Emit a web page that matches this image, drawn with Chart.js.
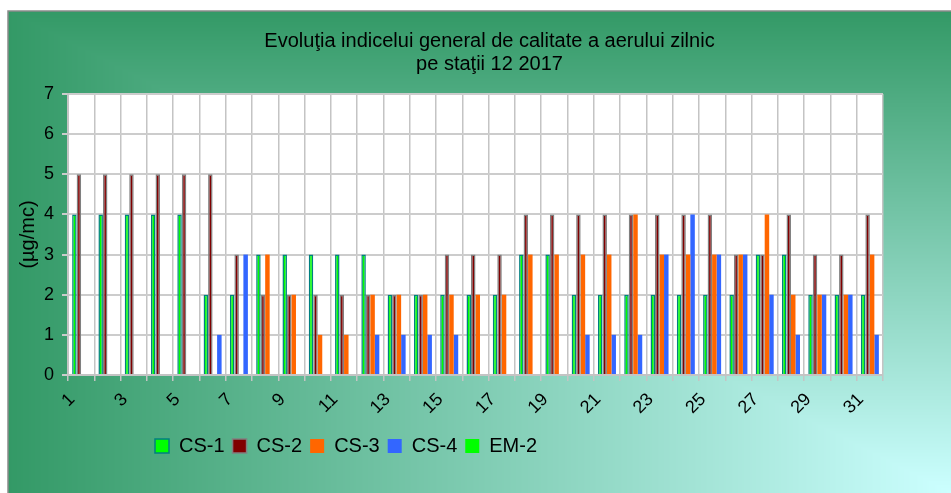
<!DOCTYPE html>
<html>
<head>
<meta charset="utf-8">
<script src="https://cdn.jsdelivr.net/npm/chart.js@4/dist/chart.umd.min.js"></script>
<style>
  html, body { margin: 0; padding: 0; background: #fff; }
</style>
</head>
<body>
<canvas id="aqiChart" width="951" height="493"></canvas>
<script>
// days of the month (December 2017)
const days = ['1','2','3','4','5','6','7','8','9','10','11','12','13','14','15','16',
              '17','18','19','20','21','22','23','24','25','26','27','28','29','30','31'];

// daily air quality index per station
const cs1 = [4,4,4,4,4,2,2,3,3,3,3,3,2,2,2,2,2,3,3,2,2,2,2,2,2,2,3,3,2,2,2];
const cs2 = [5,5,5,5,5,5,3,2,2,2,2,2,2,2,3,3,3,4,4,4,4,4,4,4,4,3,3,4,3,3,4];
const cs3 = [null,null,null,null,null,null,null,3,2,1,1,2,2,2,2,2,2,3,3,3,3,4,3,3,3,3,4,2,2,2,3];
const cs4 = [null,null,null,null,null,1,3,null,null,null,null,1,1,1,1,null,null,null,null,1,1,1,3,4,3,3,2,1,2,2,1];
const em2 = [null,null,null,null,null,null,null,null,null,null,null,null,null,null,null,null,
             null,null,null,null,null,null,null,null,null,null,null,null,null,null,null];

const yTicks = [0,1,2,3,4,5,6,7];

Chart.defaults.font.family = '"Liberation Sans", Arial, sans-serif';
Chart.defaults.color = '#000';

let panelImg = null;
function buildPanel(w, h) {
  const c = document.createElement('canvas');
  c.width = w; c.height = h;
  const g = c.getContext('2d');
  const img = g.createImageData(w, h);
  const dark = [51, 153, 102], light = [204, 255, 255];
  for (let j = 0; j < h; j++) {
    for (let i = 0; i < w; i++) {
      let t = Math.max((w - 1 - i) / w, (h - 1 - j) / h);
      const k = (j * w + i) * 4;
      img.data[k] = light[0] + (dark[0] - light[0]) * t;
      img.data[k + 1] = light[1] + (dark[1] - light[1]) * t;
      img.data[k + 2] = light[2] + (dark[2] - light[2]) * t;
      img.data[k + 3] = 255;
    }
  }
  g.putImageData(img, 0, 0);
  return c;
}

// green panel behind everything, white plot area
const panelPlugin = {
  id: 'panel',
  beforeDraw(chart) {
    const ctx = chart.ctx;
    const x0 = 8, y0 = 11;
    ctx.save();
    ctx.fillStyle = '#fff';
    ctx.fillRect(0, 0, chart.width, chart.height);
    if (!panelImg) panelImg = buildPanel(chart.width - x0, chart.height - y0);
    ctx.drawImage(panelImg, x0, y0);
    ctx.strokeStyle = '#8a8a8a';
    ctx.lineWidth = 1.5;
    ctx.beginPath();
    ctx.moveTo(x0, chart.height);
    ctx.lineTo(x0, y0);
    ctx.lineTo(chart.width, y0);
    ctx.stroke();
    const a = chart.chartArea;
    ctx.fillStyle = '#fff';
    ctx.fillRect(a.left, a.top, a.right - a.left, a.bottom - a.top);
    ctx.restore();
  }
};

// move title and legend to where the original has them
const shiftPlugin = {
  id: 'shiftBoxes',
  afterLayout(chart) {
    const t = chart.titleBlock;
    t.left += 48; t.right += 48;
    const l = chart.legend;
    l.left = 147;
  }
};

const ctx = document.getElementById('aqiChart');
new Chart(ctx, {
  type: 'bar',
  data: {
    labels: days,
    datasets: [
      { label: 'CS-1', data: cs1, backgroundColor: '#00ff00', borderColor: '#008080', borderWidth: 1.5 },
      { label: 'CS-2', data: cs2, backgroundColor: '#800000', borderColor: '#808080', borderWidth: 1.5 },
      { label: 'CS-3', data: cs3, backgroundColor: '#ff6600', borderWidth: 0 },
      { label: 'CS-4', data: cs4, backgroundColor: '#3366ff', borderWidth: 0, stack: 'd' },
      { label: 'EM-2', data: em2, backgroundColor: '#00ff00', borderWidth: 0, stack: 'd' }
    ]
  },
  options: {
    responsive: false,
    animation: false,
    categoryPercentage: 0.685,
    barPercentage: 1.0,
    layout: { padding: { left: 0, right: 68, top: 0, bottom: 27 } },
    plugins: {
      title: {
        display: true,
        text: ['Evoluţia indicelui general de calitate a aerului zilnic', 'pe staţii 12 2017'],
        font: { size: 20, weight: 'normal', lineHeight: 1.15 },
        color: '#000',
        padding: { top: 30, bottom: 18 }
      },
      legend: {
        position: 'bottom',
        align: 'start',
        labels: { boxWidth: 14, boxHeight: 14, padding: 8, font: { size: 20 }, color: '#000' }
      },
      tooltip: { enabled: false }
    },
    scales: {
      x: {
        grid: { color: '#c4c4c4', lineWidth: 1.5, tickLength: 6, offset: true },
        border: { color: '#c4c4c4', width: 2 },
        ticks: {
          autoSkip: false,
          maxRotation: 45,
          minRotation: 45,
          padding: 8,
          labelOffset: -9,
          font: { size: 18 },
          color: '#000',
          callback: function (val, idx) { return idx % 2 === 0 ? this.getLabelForValue(val) : ''; }
        },
        afterFit: s => { s.height = 53; }
      },
      y: {
        min: 0,
        max: 7,
        grid: { color: '#cccccc', lineWidth: 2, tickLength: 6 },
        border: { color: '#c4c4c4', width: 2 },
        ticks: {
          stepSize: 1,
          padding: 8,
          font: { size: 18 },
          color: '#000',
          callback: v => yTicks.includes(v) ? v : ''
        },
        title: { display: true, text: '(µg/mc)', font: { size: 20 }, color: '#000', padding: { top: 16, bottom: 0 } },
        afterFit: s => { s.width = 68; }
      }
    }
  },
  plugins: [panelPlugin, shiftPlugin]
});
</script>
</body>
</html>
